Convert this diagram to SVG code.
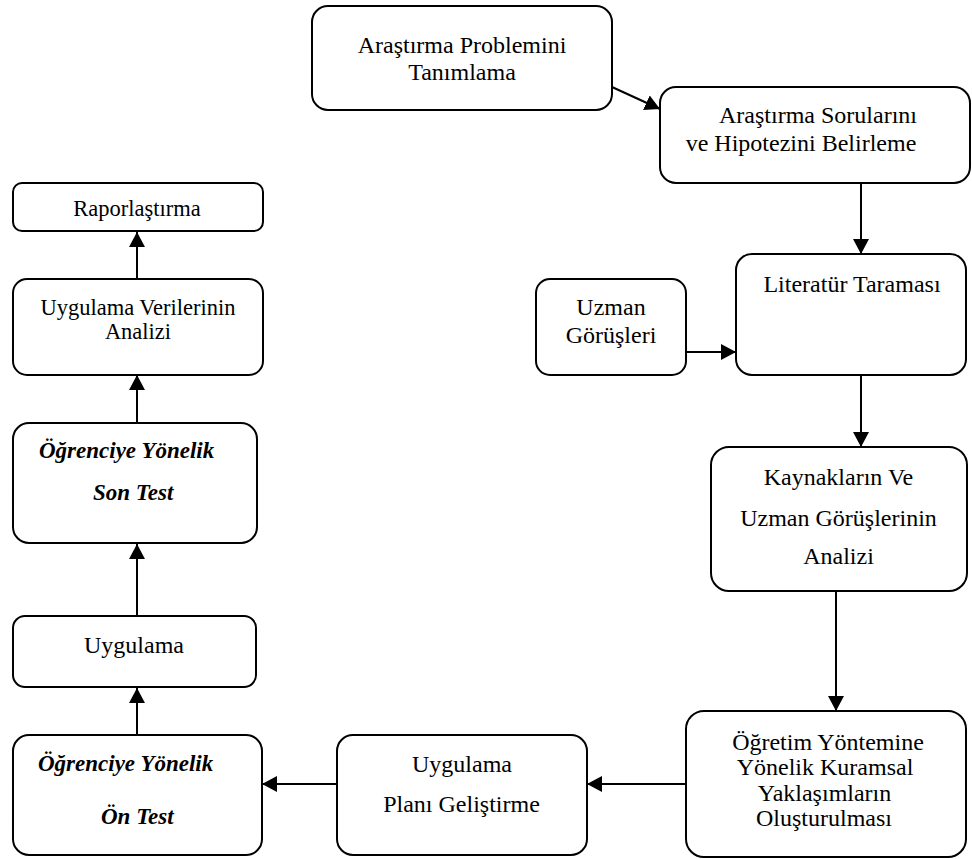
<svg xmlns="http://www.w3.org/2000/svg" width="972" height="859" viewBox="0 0 972 859">
<style>
.box{fill:#fff;stroke:#000;stroke-width:2}
.t{font-family:"Liberation Serif","Times New Roman",serif;font-size:24px;fill:#000;text-anchor:middle}
.s{font-size:22.5px}
.bi{font-weight:bold;font-style:italic;font-size:23px;text-anchor:start}
.c{stroke:#000;stroke-width:2;fill:none;marker-end:url(#ah)}
</style>
<defs>
<marker id="ah" markerUnits="userSpaceOnUse" markerWidth="16" markerHeight="16" refX="15" refY="8" orient="auto">
<path d="M0,0 L15,8 L0,16 z" fill="#000"/>
</marker>
</defs>
<rect width="972" height="859" fill="#fff"/>
<g id="connectors">
<line class="c" x1="612" y1="87" x2="660" y2="109"/>
<line class="c" x1="861" y1="183" x2="861" y2="254"/>
<line class="c" x1="686" y1="352" x2="736" y2="352"/>
<line class="c" x1="861" y1="375" x2="861" y2="447"/>
<line class="c" x1="836" y1="591" x2="836" y2="711"/>
<line class="c" x1="686" y1="784" x2="587" y2="784"/>
<line class="c" x1="337" y1="784" x2="262" y2="784"/>
<line class="c" x1="137" y1="735" x2="137" y2="688"/>
<line class="c" x1="137" y1="616" x2="137" y2="544"/>
<line class="c" x1="137" y1="423" x2="137" y2="375"/>
<line class="c" x1="137" y1="279" x2="137" y2="232"/>
</g>
<g id="n1">
<rect class="box" x="312" y="6" width="300" height="104" rx="16"/>
<text class="t" x="462" y="53">Araştırma Problemini</text>
<text class="t" x="462" y="80">Tanımlama</text>
</g>
<g id="n2">
<rect class="box" x="660" y="87" width="310" height="96" rx="16"/>
<text class="t" x="818" y="123">Araştırma Sorularını</text>
<text class="t" x="801" y="151">ve Hipotezini Belirleme</text>
</g>
<g id="n3">
<rect class="box" x="736" y="254" width="230" height="121" rx="16"/>
<text class="t" x="852" y="292">Literatür Taraması</text>
</g>
<g id="n4">
<rect class="box" x="536" y="279" width="150" height="96" rx="14"/>
<text class="t" x="611" y="315">Uzman</text>
<text class="t" x="611" y="343">Görüşleri</text>
</g>
<g id="n5">
<rect class="box" x="711" y="447" width="256" height="144" rx="18"/>
<text class="t" x="838.5" y="485">Kaynakların Ve</text>
<text class="t" x="838.5" y="526">Uzman Görüşlerinin</text>
<text class="t" x="838.5" y="564">Analizi</text>
</g>
<g id="n6">
<rect class="box" x="686" y="711" width="280" height="146" rx="18"/>
<text class="t" x="828" y="750">Öğretim Yöntemine</text>
<text class="t" x="825" y="775">Yönelik Kuramsal</text>
<text class="t" x="824.5" y="801">Yaklaşımların</text>
<text class="t" x="824" y="826">Oluşturulması</text>
</g>
<g id="n7">
<rect class="box" x="337" y="735" width="250" height="120" rx="16"/>
<text class="t" x="462" y="772">Uygulama</text>
<text class="t" x="461.5" y="812">Planı Geliştirme</text>
</g>
<g id="n8">
<rect class="box" x="13" y="735" width="249" height="120" rx="16"/>
<text class="t bi" x="38" y="771">Öğrenciye Yönelik</text>
<text class="t bi" x="101" y="824">Ön Test</text>
</g>
<g id="n9">
<rect class="box" x="13" y="616" width="243" height="71" rx="12"/>
<text class="t" x="134" y="653">Uygulama</text>
</g>
<g id="n10">
<rect class="box" x="13" y="423" width="244" height="120" rx="16"/>
<text class="t bi" x="39" y="458">Öğrenciye Yönelik</text>
<text class="t bi" x="93" y="500">Son Test</text>
</g>
<g id="n11">
<rect class="box" x="13" y="279" width="250" height="96" rx="14"/>
<text class="t s" x="138" y="315">Uygulama Verilerinin</text>
<text class="t s" x="138" y="339">Analizi</text>
</g>
<g id="n12">
<rect class="box" x="13" y="183" width="250" height="48" rx="9"/>
<text class="t s" x="137" y="216">Raporlaştırma</text>
</g>
</svg>
